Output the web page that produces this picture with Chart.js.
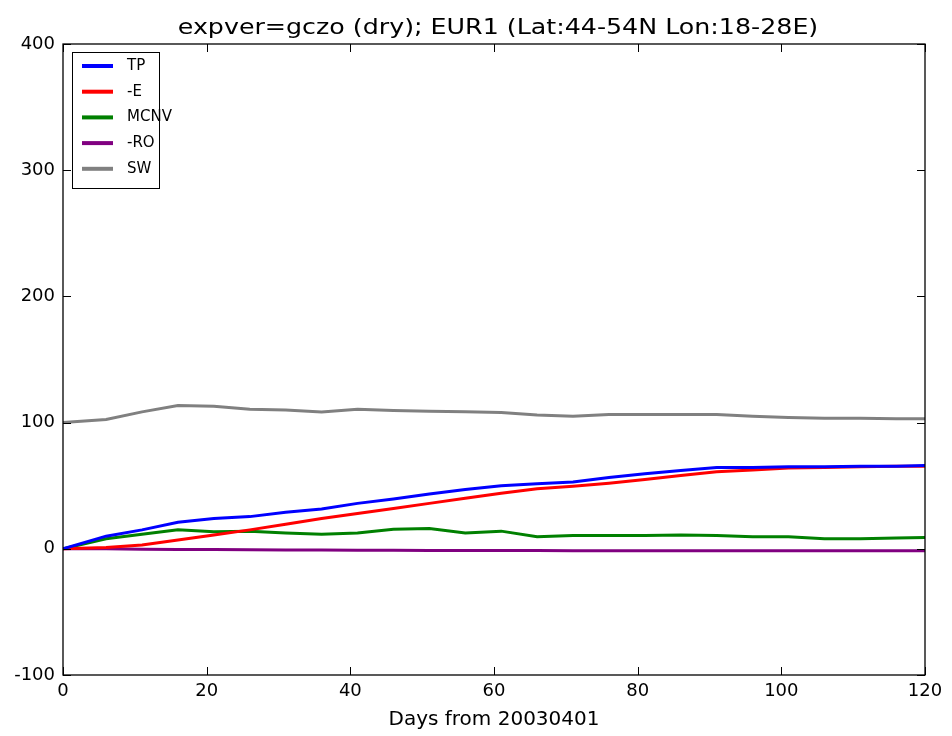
<!DOCTYPE html>
<html><head><meta charset="utf-8">
<script src="https://cdn.jsdelivr.net/npm/chart.js@4/dist/chart.umd.min.js"></script>
<style>html,body{margin:0;padding:0;background:#fff}canvas{display:block}</style>
</head><body>
<canvas id="c" width="952" height="736"></canvas>
<script>
const chartTitle = 'expver=gczo (dry); EUR1 (Lat:44-54N Lon:18-28E)';
const xAxisTitle = 'Days from 20030401';
const days = [0, 6, 11, 16, 21, 26, 31, 36, 41, 46, 51, 56, 61, 66, 71, 76, 81, 86, 91, 96, 101, 106, 111, 116, 120];
const seriesTP   = [0, 10, 15, 21, 24, 25.5, 29, 31.5, 36, 39.5, 43.5, 47, 50, 51.5, 53, 56.5, 59.5, 62, 64.5, 64.5, 65, 65, 65.5, 65.5, 66];
const seriesE    = [0, 1, 3, 7, 11, 15, 19.5, 24, 28, 32, 36, 40, 44, 47.5, 49.5, 52, 55, 58, 61, 62.5, 64, 64.5, 65, 65.5, 65.5];
const seriesMCNV = [0, 8, 11.5, 15, 13.5, 14, 12.5, 11.5, 12.5, 15.5, 16, 12.5, 14, 9.5, 10.5, 10.5, 10.5, 11, 10.5, 9.5, 9.5, 8, 8, 8.5, 9];
const seriesRO   = [0, 0, -0.3, -0.5, -0.6, -0.8, -0.9, -1, -1.1, -1.2, -1.3, -1.3, -1.4, -1.4, -1.5, -1.5, -1.5, -1.5, -1.5, -1.6, -1.6, -1.6, -1.6, -1.6, -1.6];
const seriesSW   = [100, 102.5, 108.5, 113.5, 113, 110.5, 110, 108.5, 110.5, 109.5, 109, 108.5, 108, 106, 105, 106.5, 106.5, 106.5, 106.5, 105, 104, 103.5, 103.5, 103, 103];
const seriesLabels = ['TP', '-E', 'MCNV', '-RO', 'SW'];
const seriesColors = ['#0000ff', '#ff0000', '#008000', '#800080', '#808080'];
const xTickValues = [0, 20, 40, 60, 80, 100, 120];
const yTickValues = [-100, 0, 100, 200, 300, 400];

const allSeries = [seriesTP, seriesE, seriesMCNV, seriesRO, seriesSW];
const FONT = "'DejaVu Sans', sans-serif";

const frameAndTicks = {
  id: 'frameAndTicks',
  afterDatasetsDraw(chart) {
    const {ctx, chartArea: a, scales: {x, y}} = chart;
    ctx.save();
    ctx.strokeStyle = '#000';
    ctx.lineWidth = 1.3;
    ctx.strokeRect(a.left, a.top, a.right - a.left, a.bottom - a.top);
    ctx.lineWidth = 1;
    const L = 8;
    ctx.beginPath();
    xTickValues.forEach(v => {
      const px = Math.round(x.getPixelForValue(v)) + 0.5;
      ctx.moveTo(px, a.bottom); ctx.lineTo(px, a.bottom - L);
      ctx.moveTo(px, a.top); ctx.lineTo(px, a.top + L);
    });
    yTickValues.forEach(v => {
      const py = Math.round(y.getPixelForValue(v)) + 0.5;
      ctx.moveTo(a.left, py); ctx.lineTo(a.left + L, py);
      ctx.moveTo(a.right, py); ctx.lineTo(a.right - L, py);
    });
    ctx.stroke();
    // title (slightly widened like the reference)
    ctx.save();
    ctx.fillStyle = '#000';
    ctx.font = '22px ' + FONT;
    ctx.textAlign = 'center';
    ctx.textBaseline = 'alphabetic';
    ctx.translate((a.left + a.right) / 2 + 4, 34);
    ctx.scale(1.15, 1);
    ctx.fillText(chartTitle, 0, 0);
    ctx.restore();
    // legend
    const bx = a.left + 9, by = a.top + 8, bw = 87, bh = 136;
    ctx.fillStyle = '#fff';
    ctx.fillRect(bx, by, bw, bh);
    ctx.strokeStyle = '#000';
    ctx.lineWidth = 1;
    ctx.strokeRect(bx + 0.5, by + 0.5, bw, bh);
    ctx.font = '15px ' + FONT;
    ctx.textAlign = 'left';
    ctx.textBaseline = 'middle';
    chart.data.datasets.forEach((ds, i) => {
      const ry = by + 14 + i * 25.7;
      ctx.strokeStyle = ds.borderColor;
      ctx.lineWidth = 4;
      ctx.beginPath();
      ctx.moveTo(bx + 10, ry); ctx.lineTo(bx + 41, ry);
      ctx.stroke();
      ctx.fillStyle = '#000';
      ctx.fillText(ds.label, bx + 55, ry);
    });
    ctx.restore();
  }
};

new Chart(document.getElementById('c'), {
  type: 'line',
  data: {
    datasets: allSeries.map((s, i) => ({
      label: seriesLabels[i],
      data: days.map((d, j) => ({x: d, y: s[j]})),
      borderColor: seriesColors[i],
      backgroundColor: seriesColors[i],
      borderWidth: 3,
      pointRadius: 0,
      tension: 0,
      fill: false
    }))
  },
  options: {
    responsive: false,
    animation: false,
    devicePixelRatio: 1,
    layout: {padding: {top: 44, right: 27, left: 0, bottom: 0}},
    plugins: {legend: {display: false}, title: {display: false}, tooltip: {enabled: false}},
    scales: {
      x: {
        type: 'linear', min: 0, max: 120,
        afterBuildTicks: s => { s.ticks = xTickValues.map(v => ({value: v})); },
        afterFit: s => { s.height = 61; },
        grid: {display: false, drawTicks: false},
        border: {display: false},
        ticks: {padding: 6, color: '#000', font: {family: FONT, size: 18}, maxRotation: 0},
        title: {display: true, text: xAxisTitle, color: '#000', font: {family: FONT, size: 20}, padding: {bottom: 4}}
      },
      y: {
        type: 'linear', min: -100, max: 400,
        afterBuildTicks: s => { s.ticks = yTickValues.map(v => ({value: v})); },
        afterFit: s => { s.width = 63; },
        grid: {display: false, drawTicks: false},
        border: {display: false},
        ticks: {padding: 8, color: '#000', font: {family: FONT, size: 18}}
      }
    }
  },
  plugins: [frameAndTicks]
});
</script>
</body></html>
